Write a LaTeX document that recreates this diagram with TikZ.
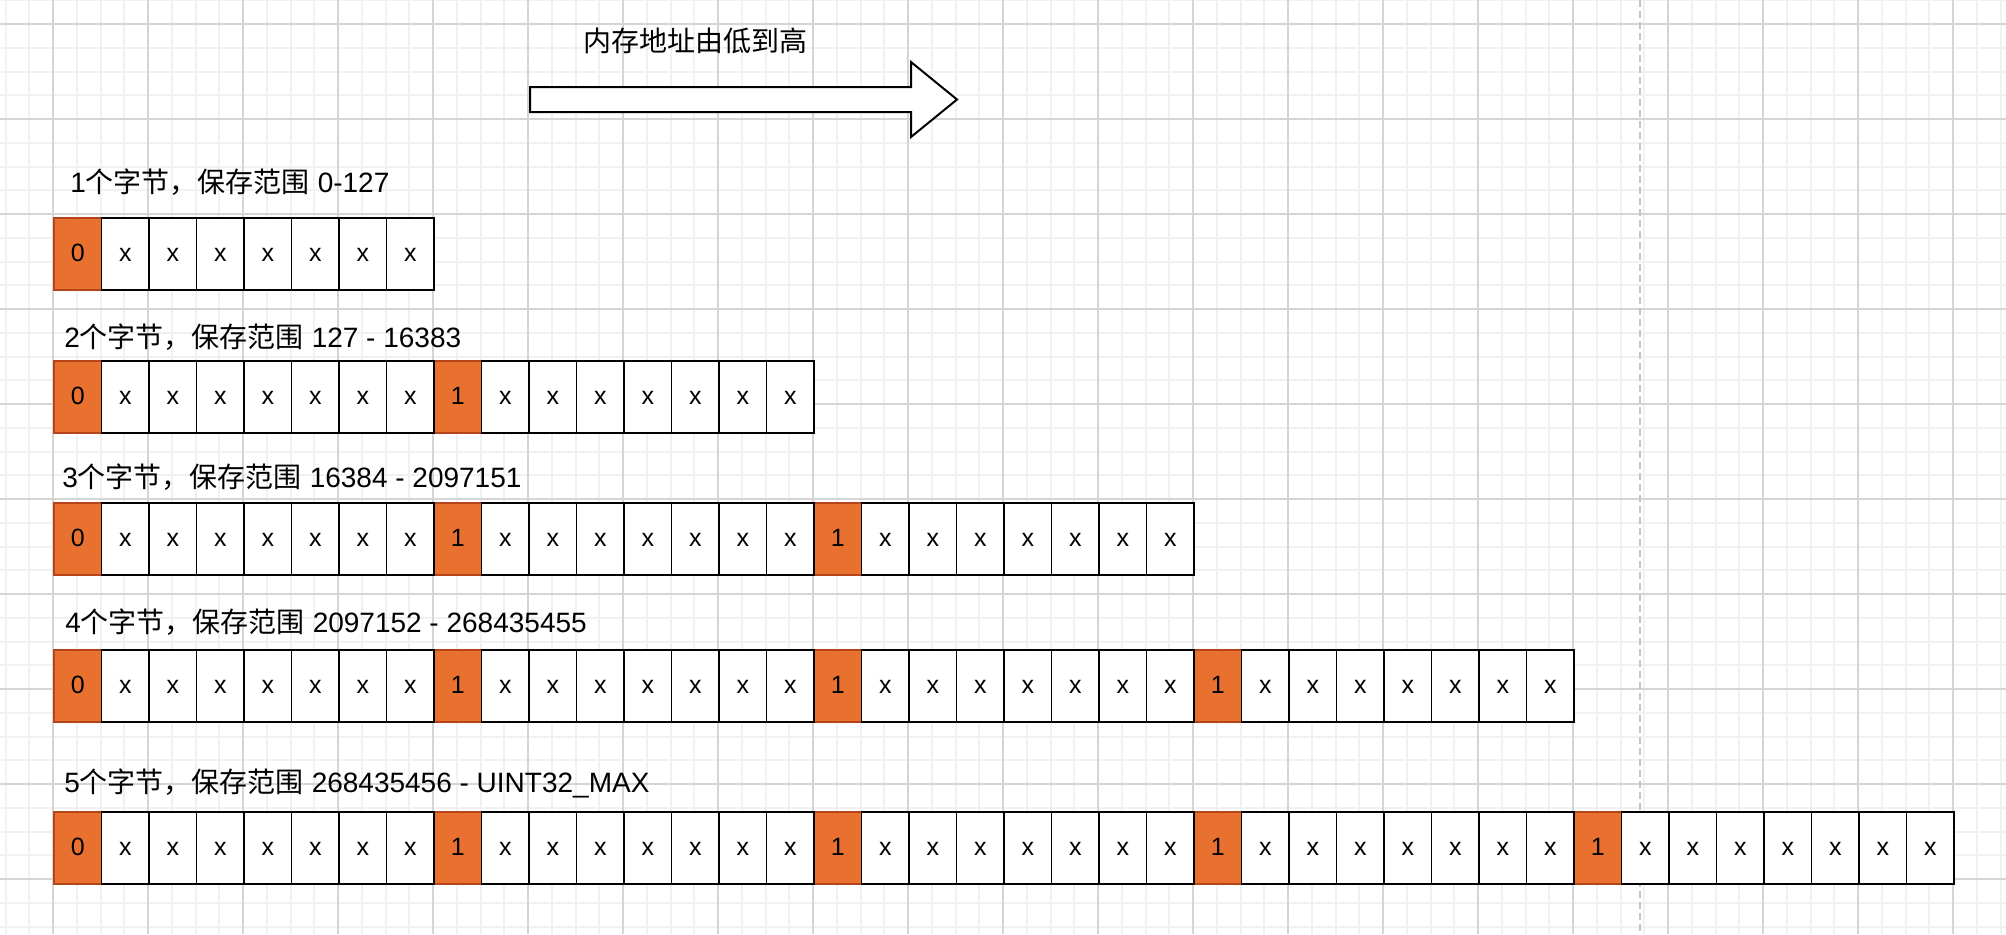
\documentclass[tikz,border=0pt]{standalone}
\usepackage{fontspec}
\setmainfont{Liberation Sans}
\newfontfamily\cjk{Noto Sans CJK SC}
\definecolor{cellorange}{HTML}{E8712F}
\definecolor{cellorangeline}{HTML}{B5441B}
\definecolor{gridminor}{HTML}{F1F1F1}
\definecolor{gridmajor}{HTML}{D5D5D5}
\definecolor{dashgray}{HTML}{C4C4C4}
\begin{document}
\begin{tikzpicture}[x=0.5pt,y=-0.5pt,
  cellbox/.style={draw=black, line width=0.9pt, fill=white, minimum width=23.75pt,
    minimum height=36pt, inner sep=0pt, outer sep=0pt, anchor=north west,
    font=\fontsize{12.5}{14}\selectfont, text height=0.72em, text depth=0pt},
  flagbox/.style={cellbox, fill=cellorange, draw=cellorangeline},
  rowlabel/.style={anchor=west, inner sep=0pt, font=\fontsize{14}{16}\selectfont},
  minorline/.style={draw=gridminor, line width=1pt},
  majorline/.style={draw=gridmajor, line width=0.6pt},
  blockarrow/.style={draw=black, fill=white, line width=1pt, line join=miter},
]
\useasboundingbox (0,0) rectangle (2006,934);
\fill[white] (0,0) rectangle (2006,934);
% grid
\foreach \j in {-2,...,82} \draw[minorline] ({53+23.75*\j},0) -- ({53+23.75*\j},934);
\foreach \j in {-1,...,38} \draw[minorline] (0,{24+23.75*\j}) -- (2006,{24+23.75*\j});
\foreach \k in {0,...,20} \draw[majorline] ({53+95*\k},0) -- ({53+95*\k},934);
\foreach \k in {0,...,9} \draw[majorline] (0,{24+95*\k}) -- (2006,{24+95*\k});
\draw[dashgray, line width=1pt, dash pattern=on 3.5pt off 2pt] (1640,0) -- (1640,934);
% title and arrow
\node[font=\fontsize{14}{16}\selectfont, inner sep=0pt] (title) at (695.5,41) {\cjk 内存地址由低到高};
\draw[blockarrow] (530,87) -- (911,87) -- (911,62) -- (957,99.5) -- (911,137) -- (911,112) -- (530,112) -- cycle;
% row labels
\node[rowlabel] (lab1) at (70,182) {1{\cjk 个字节，保存范围} 0-127};
\node[rowlabel] (lab2) at (64,337) {2{\cjk 个字节，保存范围} 127 - 16383};
\node[rowlabel] (lab3) at (62,477) {3{\cjk 个字节，保存范围} 16384 - 2097151};
\node[rowlabel] (lab4) at (65,622) {4{\cjk 个字节，保存范围} 2097152 - 268435455};
\node[rowlabel] (lab5) at (64,783) {5{\cjk 个字节，保存范围} 268435456 - UINT32\_MAX};
% cells
\foreach \r/\top in {1/218,2/361,3/503,4/650,5/812} {
  \pgfmathtruncatemacro{\n}{8*\r-1}
  \foreach \c in {0,...,\n} {
    \pgfmathtruncatemacro{\m}{mod(\c,8)}
    \ifnum\m=0
      \ifnum\c=0
        \node[flagbox] (cell-\r-\c) at ({54+47.5*\c},\top) {0};
      \else
        \node[flagbox] (cell-\r-\c) at ({54+47.5*\c},\top) {1};
      \fi
    \fi
  }
  \foreach \c in {0,...,\n} {
    \pgfmathtruncatemacro{\m}{mod(\c,8)}
    \ifnum\m>0
      \node[cellbox] (cell-\r-\c) at ({54+47.5*\c},\top) {x};
    \fi
  }
}
\end{tikzpicture}
\end{document}
